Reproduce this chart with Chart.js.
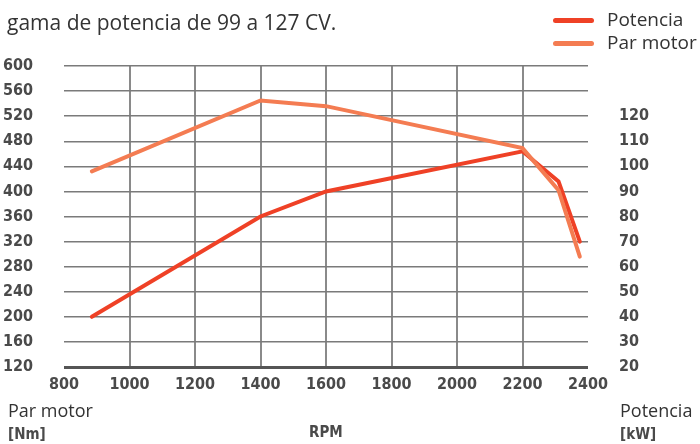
<!DOCTYPE html>
<html>
<head>
<meta charset="utf-8">
<script src="https://cdn.jsdelivr.net/npm/chart.js@4/dist/chart.umd.min.js"></script>
<style>
  html, body { margin: 0; padding: 0; background: #fff; }
  #wrap { position: relative; width: 700px; height: 444px; overflow: hidden; }
  #chart { position: absolute; left: 0; top: 0; }
  .txt { position: absolute; font-family: "Open Sans", "Noto Sans", sans-serif; color: #333; font-size: 18px; white-space: nowrap; line-height: 1; }
  .cond { font-family: "DejaVu Sans Condensed", "DejaVu Sans", sans-serif; font-stretch: condensed; font-weight: bold; color: #4a4a4a; font-size: 15px; }
  .leg { position: absolute; left: 553px; width: 41px; height: 5px; border-radius: 3px; }
</style>
</head>
<body>
<div id="wrap">
  <canvas id="chart" width="700" height="444"></canvas>
  <div class="txt" style="left:7px; top:12px; font-size:21px;">gama de potencia de 99 a 127 CV.</div>
  <div id="legend"></div>
  <div class="txt" style="left:8px; top:401px;">Par motor</div>
  <div class="txt cond" style="left:8px; top:427px;">[Nm]</div>
  <div class="txt cond" style="left:309px; top:425px;">RPM</div>
  <div class="txt" style="left:620px; top:401px;">Potencia</div>
  <div class="txt cond" style="left:620px; top:427px;">[kW]</div>
</div>
<script>
// ==================== DATA ====================
const rpm = [885, 1400, 1600, 2200, 2310, 2375];
const potenciaKw = [40, 80, 90, 106, 94, 70];
const parMotorNm = [432, 545, 536, 469, 402, 296];

const seriesNames = ['Potencia', 'Par motor'];
const seriesColors = ['#ef4126', '#f47c52'];

const xTicks = [800, 1000, 1200, 1400, 1600, 1800, 2000, 2200, 2400];
const nmTicks = [120, 160, 200, 240, 280, 320, 360, 400, 440, 480, 520, 560, 600];
const kwTicks = [20, 30, 40, 50, 60, 70, 80, 90, 100, 110, 120];

// ==================== LEGEND ====================
const legend = document.getElementById('legend');
seriesNames.forEach((name, i) => {
    const top = 18 + i * 23;
    legend.innerHTML += `
        <div class="leg" style="top:${top}px; background:${seriesColors[i]};"></div>
        <div class="txt" style="left:607px; top:${top - 8}px; font-size:19px;">${name}</div>`;
});

// ==================== CHART ====================
// condensed bold digits, close to the DIN-like face of the original
const tickFont = { family: '"DejaVu Sans Condensed", "DejaVu Sans", sans-serif', size: 16, style: 'normal', weight: 'bold condensed' };
const toPoints = (vals) => vals.map((v, i) => ({ x: rpm[i], y: v }));

new Chart(document.getElementById('chart'), {
    type: 'line',
    data: {
        datasets: [{
            label: seriesNames[0],
            data: toPoints(potenciaKw),
            yAxisID: 'y1',
            borderColor: seriesColors[0],
            borderWidth: 4,
            pointRadius: 0,
            tension: 0,
            borderCapStyle: 'round',
            order: 1
        }, {
            label: seriesNames[1],
            data: toPoints(parMotorNm),
            yAxisID: 'y',
            borderColor: seriesColors[1],
            borderWidth: 4,
            pointRadius: 0,
            tension: 0,
            borderCapStyle: 'round',
            order: 0
        }]
    },
    options: {
        responsive: false,
        animation: false,
        layout: { padding: { top: 66, left: 0, right: 0, bottom: 0 } },
        plugins: { legend: { display: false }, tooltip: { enabled: false } },
        scales: {
            x: {
                type: 'linear',
                min: xTicks[0],
                max: xTicks[xTicks.length - 1],
                afterBuildTicks: s => { s.ticks = xTicks.map(v => ({ value: v })); },
                afterFit: s => { s.height = 77; },
                border: { display: false },
                grid: {
                    drawTicks: false,
                    color: c => (c.tick && (c.tick.value === 800 || c.tick.value === 2400)) ? 'rgba(0,0,0,0)' : '#8a8a8a',
                    lineWidth: 2
                },
                ticks: { font: tickFont, color: '#4a4a4a', padding: 8, maxRotation: 0, callback: v => String(v) }
            },
            y: {
                position: 'left',
                min: nmTicks[0],
                max: nmTicks[nmTicks.length - 1],
                afterBuildTicks: s => { s.ticks = nmTicks.map(v => ({ value: v })); },
                afterFit: s => { s.width = 64; },
                border: { display: false },
                grid: {
                    drawTicks: false,
                    color: c => c.tick && c.tick.value === 120 ? '#555' : '#7a7a7a',
                    lineWidth: c => c.tick && c.tick.value === 120 ? 3 : 1.5
                },
                ticks: { font: tickFont, color: '#4a4a4a', padding: 31, callback: v => String(v) }
            },
            y1: {
                position: 'right',
                min: 20,
                max: 140,
                afterBuildTicks: s => { s.ticks = kwTicks.map(v => ({ value: v })); },
                afterFit: s => { s.width = 112; },
                border: { display: false },
                grid: { display: false, drawTicks: false },
                ticks: { font: tickFont, color: '#4a4a4a', padding: 31, callback: v => String(v) }
            }
        }
    }
});
</script>
</body>
</html>
